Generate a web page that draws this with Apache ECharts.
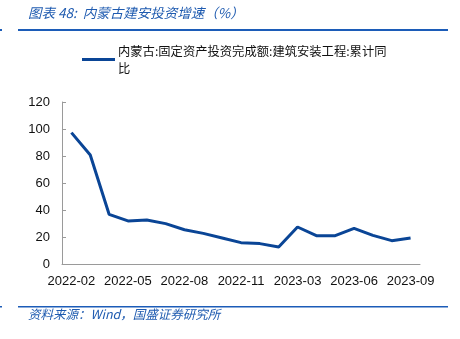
<!DOCTYPE html>
<html>
<head>
<meta charset="utf-8">
<script src="https://cdn.jsdelivr.net/npm/echarts@6/dist/echarts.min.js"></script>
<style>
  html, body { margin: 0; padding: 0; background: #fff; }
  #chart { width: 460px; height: 339px; }
</style>
</head>
<body>
<div id="chart"></div>
<script>
// Monthly cumulative YoY growth, construction & installation investment, Inner Mongolia
const months = [
  '2022-02', '2022-03', '2022-04', '2022-05', '2022-06', '2022-07', '2022-08',
  '2022-09', '2022-10', '2022-11', '2022-12',
  '2023-02', '2023-03', '2023-04', '2023-05', '2023-06', '2023-07', '2023-08', '2023-09'
];
const growth = [
  97.3, 80.7, 36.8, 31.9, 32.6, 29.9, 25.4, 22.7, 19.3, 15.8, 15.1,
  12.6, 27.4, 21.0, 21.0, 26.4, 21.2, 17.3, 19.3
];
const yTicks = [0, 20, 40, 60, 80, 100, 120];
const seriesName = '内蒙古:固定资产投资完成额:建筑安装工程:累计同比';

const blue = '#0a4596';
const headBlue = '#1f5bb0';
const axisGrey = '#9a9a9a';
const numFont = '"Liberation Sans", Arial, sans-serif';
const cjkFont = '"Noto Sans CJK SC", sans-serif';

const chart = echarts.init(document.getElementById('chart'));
chart.setOption({
  animation: false,
  backgroundColor: '#fff',
  grid: { left: 62, right: 40, top: 102, bottom: 75 },
  legend: {
    left: 82, top: 34,
    padding: 0,
    itemWidth: 33, itemHeight: 3, itemGap: 4,
    icon: 'rect',
    formatter: function (name) {
      return name.slice(0, name.length - 1) + '\n' + name.slice(-1);
    },
    // top padding keeps the legend line level with the first text line
    textStyle: { fontFamily: cjkFont, fontSize: 12.3, color: '#111', lineHeight: 17,
                 padding: [17, 0, 0, -2] },
    data: [seriesName]
  },
  xAxis: {
    type: 'category',
    data: months,
    boundaryGap: true,
    axisLine: { lineStyle: { color: axisGrey, width: 1 } },
    axisTick: { inside: true, length: 4, interval: 0, lineStyle: { color: axisGrey } },
    axisLabel: { interval: 2, margin: 11, fontFamily: numFont, fontSize: 13, color: '#111' },
    splitLine: { show: false }
  },
  yAxis: {
    type: 'value',
    min: yTicks[0], max: yTicks[yTicks.length - 1], interval: 20,
    axisLine: { show: true, lineStyle: { color: axisGrey, width: 1 } },
    axisTick: { show: true, inside: true, length: 4, lineStyle: { color: axisGrey } },
    axisLabel: { margin: 12, fontFamily: numFont, fontSize: 13, color: '#111' },
    splitLine: { show: false }
  },
  series: [{
    name: seriesName,
    type: 'line',
    data: growth,
    symbol: 'none',
    lineStyle: { color: blue, width: 3 },
    itemStyle: { color: blue }
  }],
  graphic: [
    {
      type: 'text', left: 28, top: 6,
      style: { text: '图表 48:  内蒙古建安投资增速（%）', fontFamily: cjkFont, fontStyle: 'italic',
               fontSize: 13.5, fill: headBlue }
    },
    { type: 'rect', shape: { x: 18, y: 29, width: 430, height: 2 }, style: { fill: '#1c5cb8' } },
    { type: 'rect', shape: { x: 0, y: 29, width: 2, height: 2 }, style: { fill: '#1c5cb8' } },
    { type: 'rect', shape: { x: 18, y: 306, width: 430, height: 1.5 }, style: { fill: '#1c5cb8' } },
    { type: 'rect', shape: { x: 0, y: 306, width: 2, height: 1.5 }, style: { fill: '#1c5cb8' } },
    {
      type: 'text', left: 28, top: 308,
      style: { text: '资料来源：Wind，国盛证券研究所', fontFamily: cjkFont, fontStyle: 'italic',
               fontSize: 12.5, fill: headBlue }
    }
  ]
});
</script>
</body>
</html>
